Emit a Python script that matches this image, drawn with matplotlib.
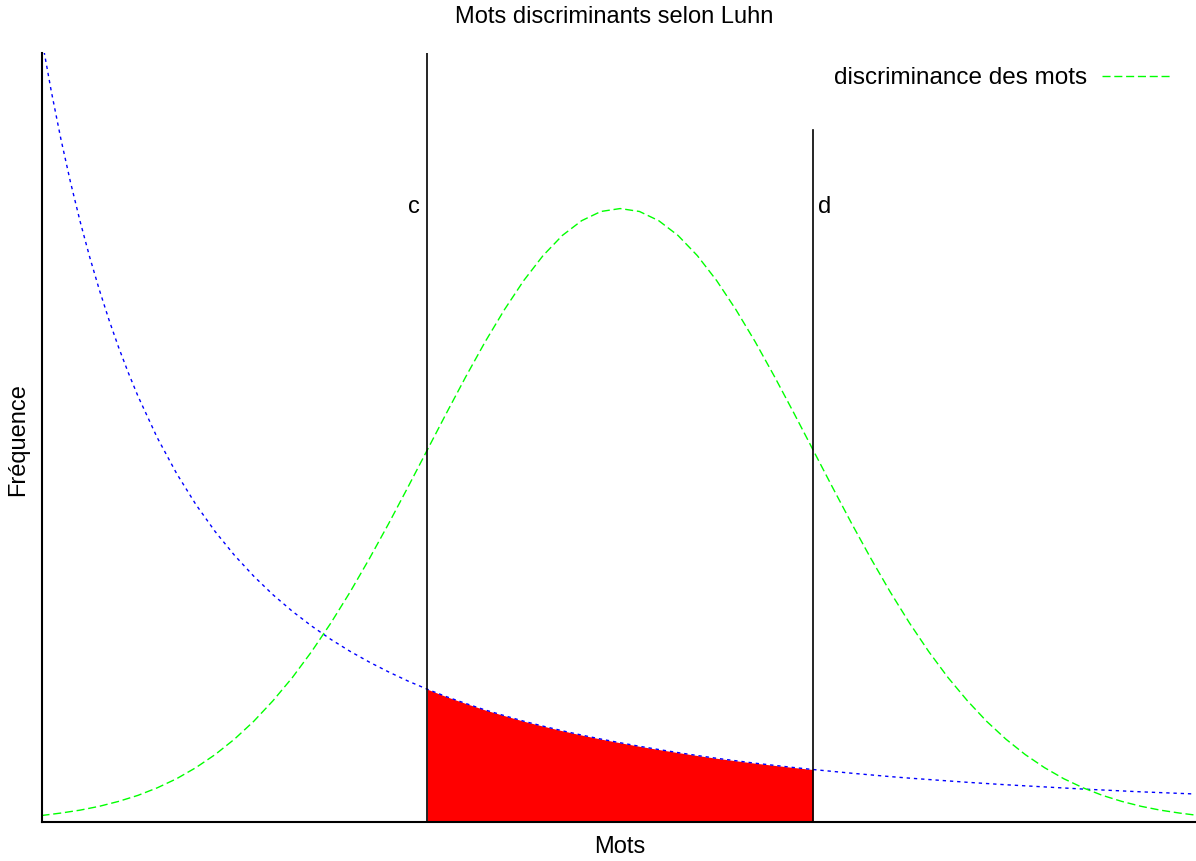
import numpy as np
import matplotlib
matplotlib.use("Agg")
import matplotlib.pyplot as plt

plt.rcParams["font.family"] = ["Liberation Sans", "DejaVu Sans"]

# ---------------------------------------------------------------------------
# Values
# ---------------------------------------------------------------------------

# green curve: word discrimination (bell), sampled every 0.1 on the x axis
green_x = np.round(np.arange(-30, 31) / 10, 1)
green_half = [0.0044, 0.0060, 0.0079, 0.0104, 0.0136, 0.0175, 0.0224, 0.0283,
              0.0355, 0.0440, 0.0540, 0.0656, 0.0790, 0.0940, 0.1109, 0.1295,
              0.1497, 0.1714, 0.1942, 0.2179, 0.2420, 0.2661, 0.2897, 0.3123,
              0.3332, 0.3521, 0.3683, 0.3814, 0.3910, 0.3970]
green_y = np.array(green_half + [0.3989] + green_half[::-1])

# blue curve: word frequency (Zipf-like decay)
# denser sampling (0.05) on the steep left part, then every 0.1
blue_x = np.concatenate([np.round(np.arange(-60, -50) / 20, 2),
                         np.round(np.arange(-25, 31) / 10, 1)])
blue_y = np.array([
    0.5102, 0.4756, 0.4444, 0.4162, 0.3906, 0.3673, 0.3460, 0.3265, 0.3086,
    0.2922,
    0.2770, 0.2500, 0.2268, 0.2066, 0.1890, 0.1736, 0.1600, 0.1479, 0.1372,
    0.1276, 0.1189, 0.1111, 0.1041, 0.0977, 0.0918, 0.0865,
    0.0816, 0.0772, 0.0730, 0.0693, 0.0657, 0.0625, 0.0595, 0.0567, 0.0541,
    0.0517,
    0.0494, 0.0473, 0.0453, 0.0434, 0.0416, 0.0400, 0.0384, 0.0370, 0.0356,
    0.0343,
    0.0331, 0.0319, 0.0308, 0.0297, 0.0287, 0.0278, 0.0269, 0.0260, 0.0252,
    0.0244,
    0.0237, 0.0230, 0.0223, 0.0216, 0.0210, 0.0204, 0.0198, 0.0193, 0.0188,
    0.0183,
])

# cut-offs c and d
cut_labels = ["c", "d"]
cut_x = [-1.0, 1.0]
cut_top = [0.5, 0.45]
label_y = 0.4

legend_label = "discriminance des mots"

# ---------------------------------------------------------------------------
# Plot
# ---------------------------------------------------------------------------

W, H = 1196, 861
fig = plt.figure(figsize=(W / 100, H / 100), dpi=100)
ax = fig.add_axes([41.5 / W, 38.7 / H, (1195 - 41.5) / W, 769.3 / H])

# red area between c and d under the frequency curve
mask = (blue_x >= cut_x[0]) & (blue_x <= cut_x[1])
ax.fill_between(blue_x[mask], 0, blue_y[mask], color="#ff0000", lw=0, zorder=1)

ax.plot(blue_x, blue_y, color="#0000ff", lw=1.0, ls=(0, (2.4, 2.8)), zorder=2)
ax.plot(green_x, green_y, color="#00ff00", lw=1.0, ls=(0, (5.8, 2.7)),
        zorder=2, label=legend_label)

for lab, xc, top in zip(cut_labels, cut_x, cut_top):
    ax.plot([xc, xc], [0, top], color="black", lw=1.2, zorder=3)
    if lab == "c":
        ax.text(xc - 0.04, label_y, lab, ha="right", va="center", fontsize=17)
    else:
        ax.text(xc + 0.025, label_y, lab, ha="left", va="center", fontsize=17)

ax.set_xlim(-3.0, 2.98)
ax.set_ylim(0, 0.5)
ax.set_xticks([])
ax.set_yticks([])
for side in ["top", "right"]:
    ax.spines[side].set_visible(False)
for side in ["left", "bottom"]:
    ax.spines[side].set_linewidth(1.5)
    ax.spines[side].set_color("black")

ax.legend(loc="center right", bbox_to_anchor=(1170 / W, 1 - 78 / H),
          bbox_transform=fig.transFigure, frameon=False, markerfirst=False,
          fontsize=17.5, handlelength=2.8, handletextpad=0.6, borderpad=0,
          borderaxespad=0)

fig.text(614 / W, 1 - 17 / H, "Mots discriminants selon Luhn",
         ha="center", va="center", fontsize=17)
fig.text(620 / W, 1 - 847 / H, "Mots", ha="center", va="center", fontsize=17)
fig.text(18 / W, 1 - 440 / H, "Fréquence", ha="center", va="center",
         rotation=90, fontsize=17)

fig.savefig("out.png", dpi=100)
